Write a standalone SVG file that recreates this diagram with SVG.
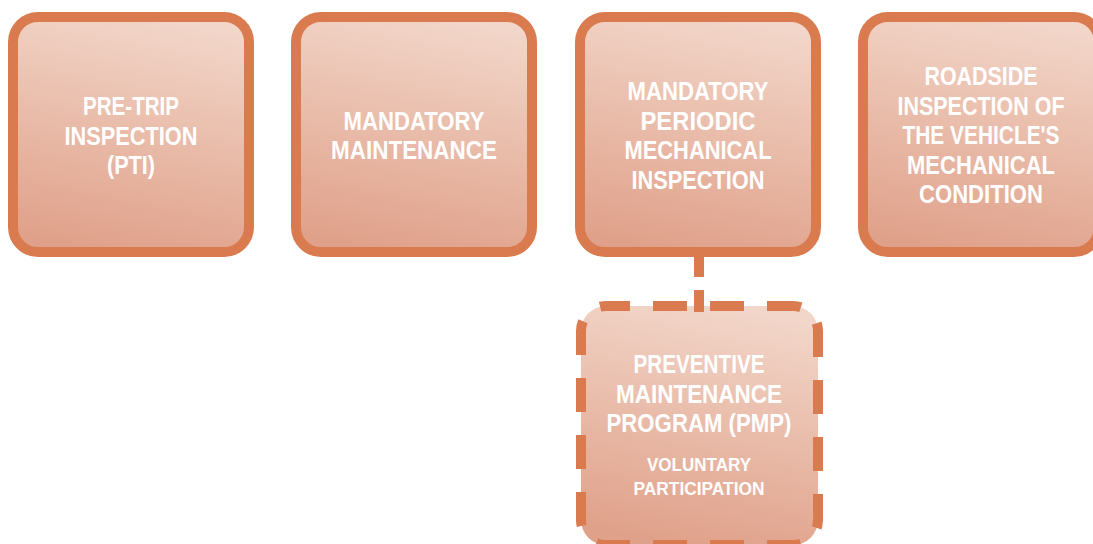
<svg xmlns="http://www.w3.org/2000/svg" width="1093" height="544" viewBox="0 0 1093 544">
<defs>
<linearGradient id="fillGrad" x1="0.6" y1="0" x2="0.4" y2="1">
<stop offset="0" stop-color="#f2d6c9"/>
<stop offset="1" stop-color="#e0a18a"/>
</linearGradient>
<style>
.box{fill:url(#fillGrad);stroke:#da7b4f;stroke-width:10}
.dash{stroke-dasharray:34 23;stroke-dashoffset:10}
.conn{stroke:#da7b4f;stroke-width:10;fill:none}
text{font-family:"Liberation Sans",Arial,sans-serif;font-weight:bold;fill:#ffffff;text-anchor:middle}
.t{font-size:25px}
.s{font-size:19px}
</style>
</defs>
<rect width="1093" height="544" fill="#ffffff"/>
<g id="node-pti">
<rect class="box" x="13" y="17" width="236" height="235" rx="25"/>
<text class="t" x="131" y="115" textLength="96" lengthAdjust="spacingAndGlyphs">PRE-TRIP</text>
<text class="t" x="131" y="144.5" textLength="133" lengthAdjust="spacingAndGlyphs">INSPECTION</text>
<text class="t" x="131" y="174" textLength="48" lengthAdjust="spacingAndGlyphs">(PTI)</text>
</g>
<g id="node-maintenance">
<rect class="box" x="296" y="17" width="236" height="235" rx="25"/>
<text class="t" x="414" y="129.5" textLength="141" lengthAdjust="spacingAndGlyphs">MANDATORY</text>
<text class="t" x="414" y="159" textLength="166" lengthAdjust="spacingAndGlyphs">MAINTENANCE</text>
</g>
<g id="node-periodic">
<rect class="box" x="580" y="17" width="236" height="235" rx="25"/>
<text class="t" x="698" y="100" textLength="141" lengthAdjust="spacingAndGlyphs">MANDATORY</text>
<text class="t" x="698" y="129.5" textLength="115" lengthAdjust="spacingAndGlyphs">PERIODIC</text>
<text class="t" x="698" y="159" textLength="147" lengthAdjust="spacingAndGlyphs">MECHANICAL</text>
<text class="t" x="698" y="188.5" textLength="133" lengthAdjust="spacingAndGlyphs">INSPECTION</text>
</g>
<g id="node-roadside">
<rect class="box" x="863" y="17" width="236" height="235" rx="25"/>
<text class="t" x="981" y="85" textLength="113" lengthAdjust="spacingAndGlyphs">ROADSIDE</text>
<text class="t" x="981" y="114.5" textLength="167" lengthAdjust="spacingAndGlyphs">INSPECTION OF</text>
<text class="t" x="981" y="144" textLength="157" lengthAdjust="spacingAndGlyphs">THE VEHICLE'S</text>
<text class="t" x="981" y="173.5" textLength="148" lengthAdjust="spacingAndGlyphs">MECHANICAL</text>
<text class="t" x="981" y="203" textLength="124" lengthAdjust="spacingAndGlyphs">CONDITION</text>
</g>
<g id="node-pmp">
<rect class="box dash" x="581" y="306" width="237" height="239" rx="25"/>
<text class="t" x="699" y="373" textLength="131" lengthAdjust="spacingAndGlyphs">PREVENTIVE</text>
<text class="t" x="699" y="403" textLength="166" lengthAdjust="spacingAndGlyphs">MAINTENANCE</text>
<text class="t" x="699" y="432" textLength="185" lengthAdjust="spacingAndGlyphs">PROGRAM (PMP)</text>
<text class="s" x="699" y="471" textLength="104" lengthAdjust="spacingAndGlyphs">VOLUNTARY</text>
<text class="s" x="699" y="495" textLength="131" lengthAdjust="spacingAndGlyphs">PARTICIPATION</text>
</g>
<g id="connectors">
<line class="conn" x1="699" y1="252" x2="699" y2="312" stroke-dasharray="25 13 30"/>
</g>
</svg>
